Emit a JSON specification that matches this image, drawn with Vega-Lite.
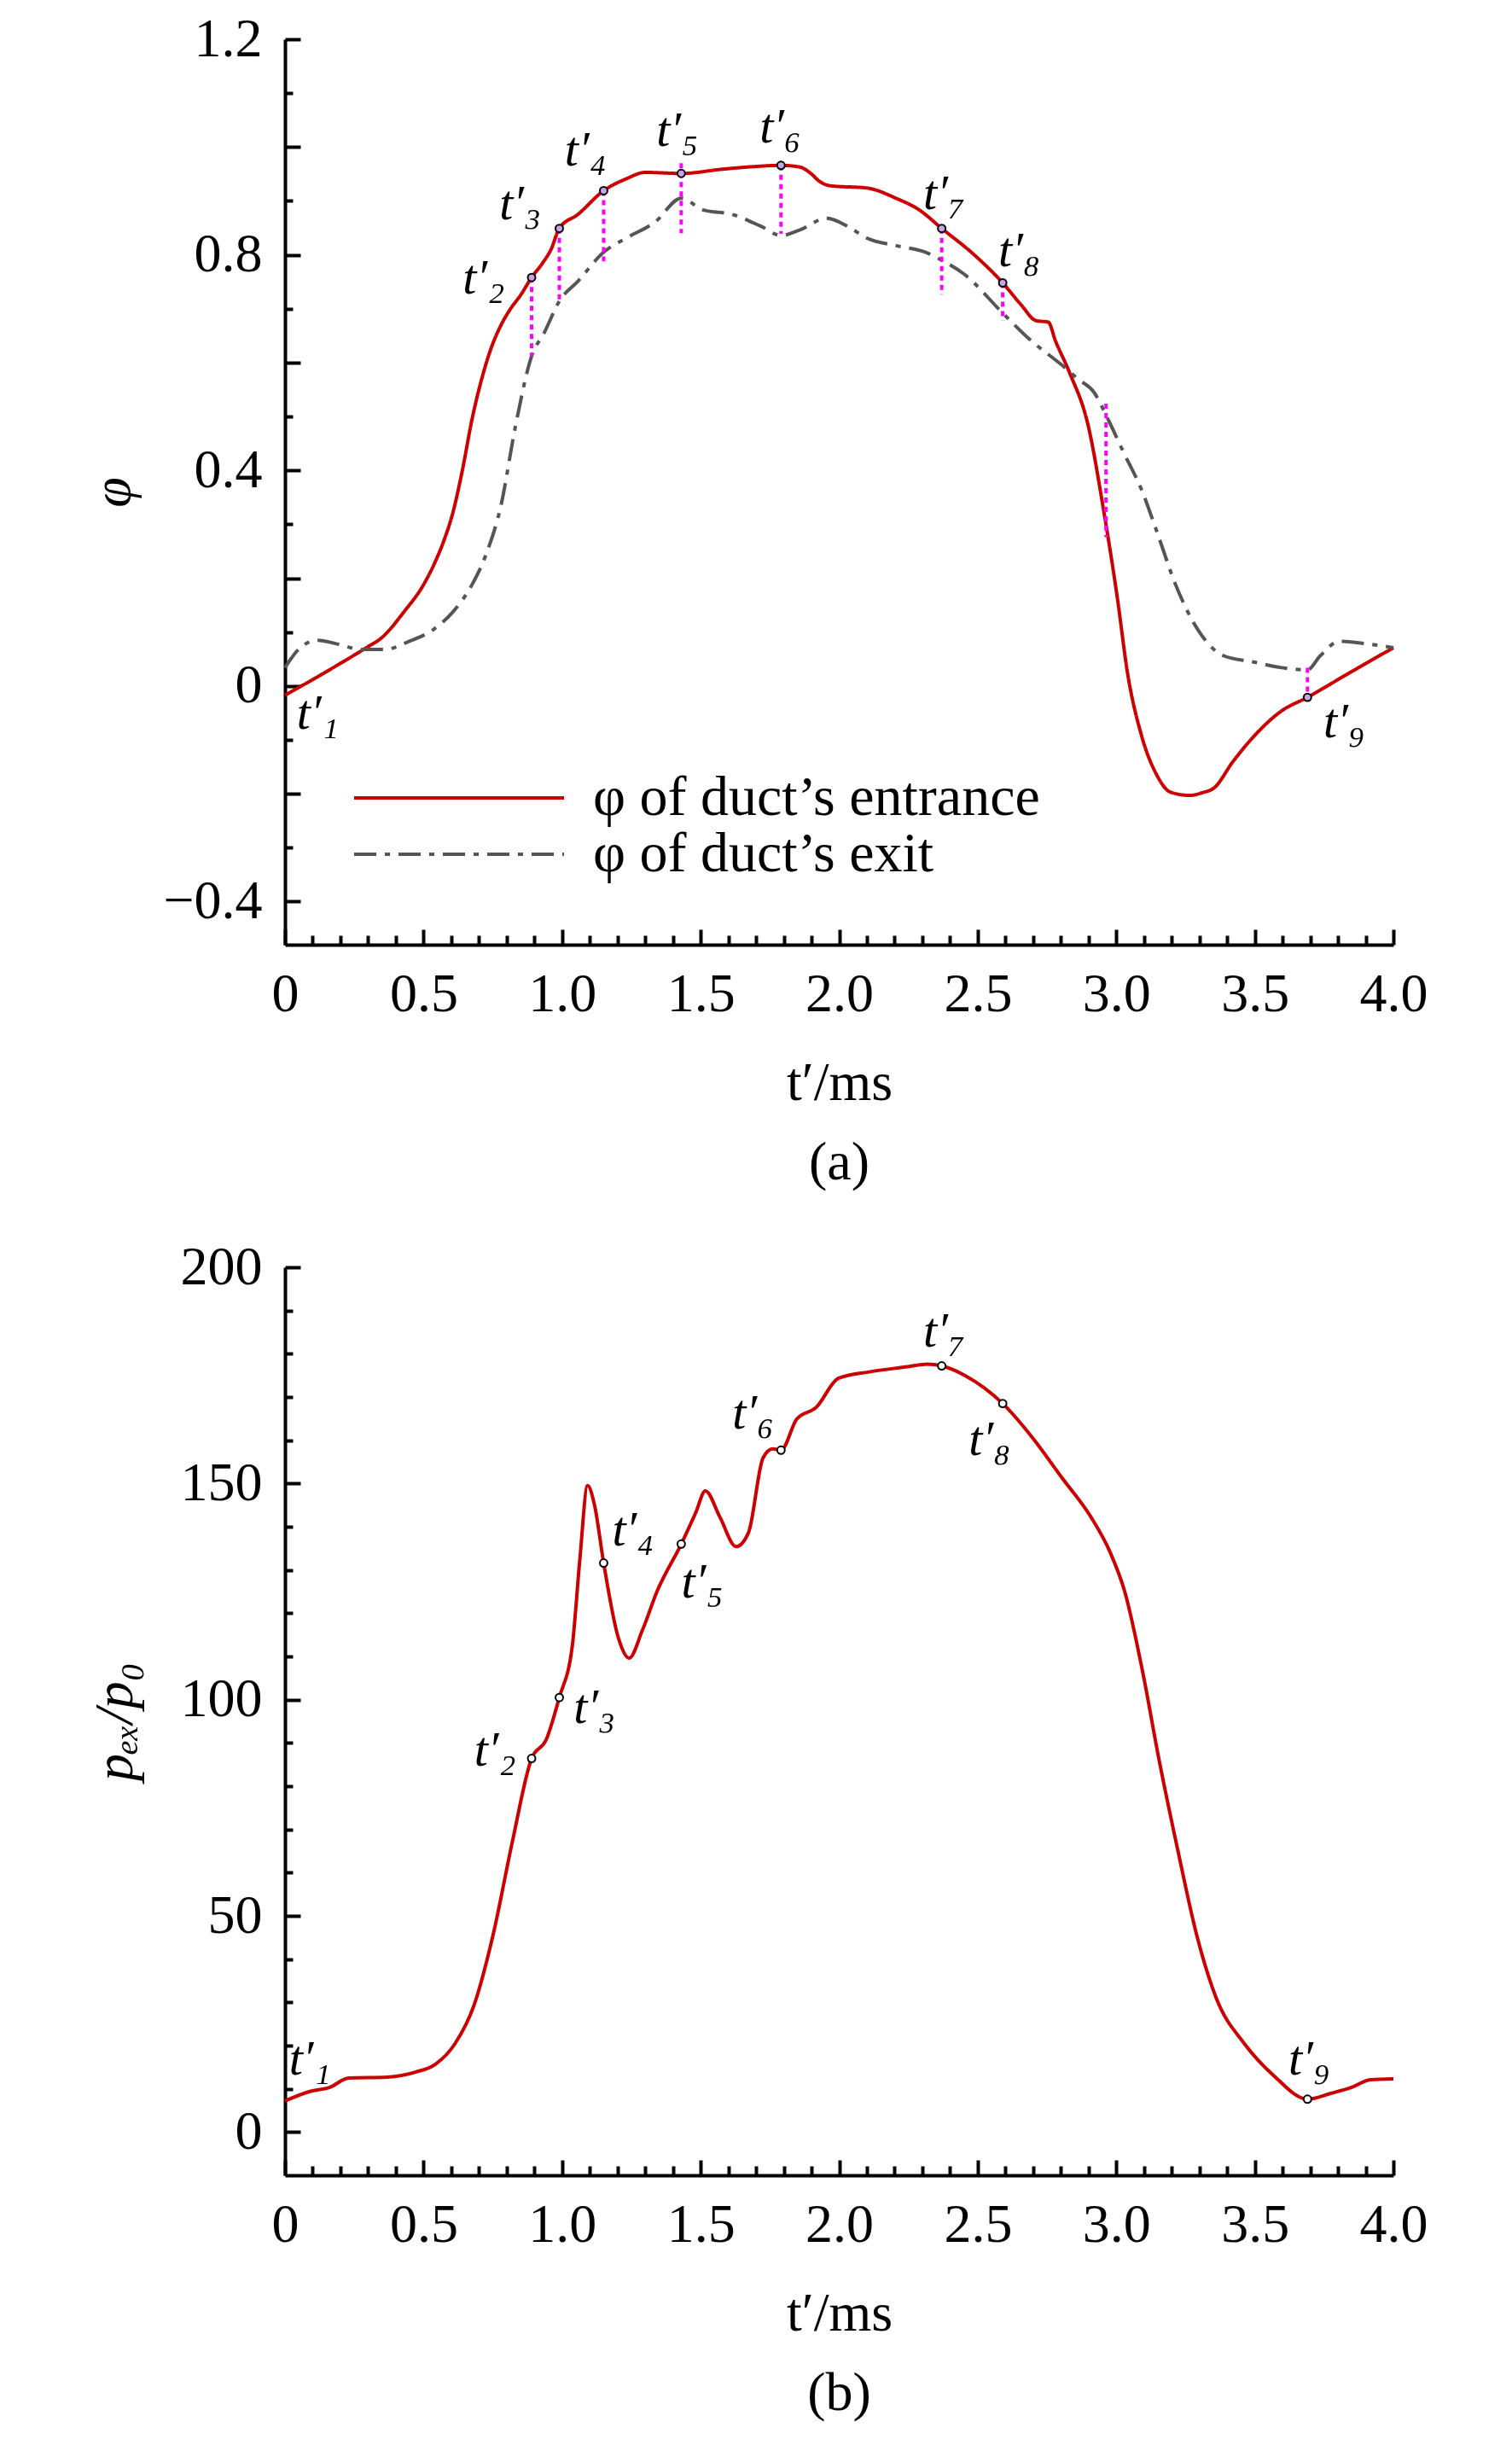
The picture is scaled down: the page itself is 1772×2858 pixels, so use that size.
{
"$schema":"https://vega.github.io/schema/vega-lite/v6.json",
"padding":{"left":100,"top":14,"right":5,"bottom":5},
"background":"white",
"spacing":58,
"datasets":{
"a_lines":[
{"t":0,"phi":-0.017,"s":"in"},{"t":0.1,"phi":0.012,"s":"in"},{"t":0.2,"phi":0.042,"s":"in"},{"t":0.29,"phi":0.07,"s":"in"},{"t":0.35,"phi":0.09,"s":"in"},{"t":0.43,"phi":0.138,"s":"in"},{"t":0.5,"phi":0.188,"s":"in"},{"t":0.54,"phi":0.228,"s":"in"},{"t":0.575,"phi":0.272,"s":"in"},{"t":0.605,"phi":0.32,"s":"in"},{"t":0.64,"phi":0.4,"s":"in"},{"t":0.675,"phi":0.495,"s":"in"},{"t":0.71,"phi":0.57,"s":"in"},{"t":0.744,"phi":0.627,"s":"in"},{"t":0.78,"phi":0.67,"s":"in"},{"t":0.814,"phi":0.7,"s":"in"},{"t":0.85,"phi":0.725,"s":"in"},{"t":0.89,"phi":0.758,"s":"in"},{"t":0.93,"phi":0.785,"s":"in"},{"t":0.96,"phi":0.81,"s":"in"},{"t":0.99,"phi":0.849,"s":"in"},{"t":1.057,"phi":0.875,"s":"in"},{"t":1.15,"phi":0.919,"s":"in"},{"t":1.231,"phi":0.941,"s":"in"},{"t":1.3,"phi":0.953,"s":"in"},{"t":1.43,"phi":0.951,"s":"in"},{"t":1.58,"phi":0.959,"s":"in"},{"t":1.7,"phi":0.964,"s":"in"},{"t":1.79,"phi":0.966,"s":"in"},{"t":1.857,"phi":0.963,"s":"in"},{"t":1.9,"phi":0.95,"s":"in"},{"t":1.927,"phi":0.937,"s":"in"},{"t":1.97,"phi":0.928,"s":"in"},{"t":2.1,"phi":0.924,"s":"in"},{"t":2.205,"phi":0.905,"s":"in"},{"t":2.29,"phi":0.883,"s":"in"},{"t":2.37,"phi":0.849,"s":"in"},{"t":2.483,"phi":0.802,"s":"in"},{"t":2.59,"phi":0.748,"s":"in"},{"t":2.657,"phi":0.707,"s":"in"},{"t":2.71,"phi":0.678,"s":"in"},{"t":2.755,"phi":0.675,"s":"in"},{"t":2.78,"phi":0.641,"s":"in"},{"t":2.83,"phi":0.583,"s":"in"},{"t":2.9,"phi":0.48,"s":"in"},{"t":2.953,"phi":0.33,"s":"in"},{"t":3.005,"phi":0.159,"s":"in"},{"t":3.04,"phi":0.026,"s":"in"},{"t":3.09,"phi":-0.09,"s":"in"},{"t":3.144,"phi":-0.163,"s":"in"},{"t":3.196,"phi":-0.197,"s":"in"},{"t":3.266,"phi":-0.203,"s":"in"},{"t":3.31,"phi":-0.198,"s":"in"},{"t":3.353,"phi":-0.189,"s":"in"},{"t":3.42,"phi":-0.141,"s":"in"},{"t":3.49,"phi":-0.097,"s":"in"},{"t":3.597,"phi":-0.046,"s":"in"},{"t":3.69,"phi":-0.021,"s":"in"},{"t":3.84,"phi":0.024,"s":"in"},{"t":4.0,"phi":0.071,"s":"in"},
{"t":0,"phi":0.034,"s":"out"},{"t":0.049,"phi":0.068,"s":"out"},{"t":0.118,"phi":0.085,"s":"out"},{"t":0.188,"phi":0.078,"s":"out"},{"t":0.275,"phi":0.068,"s":"out"},{"t":0.362,"phi":0.068,"s":"out"},{"t":0.449,"phi":0.083,"s":"out"},{"t":0.536,"phi":0.105,"s":"out"},{"t":0.605,"phi":0.137,"s":"out"},{"t":0.675,"phi":0.188,"s":"out"},{"t":0.727,"phi":0.246,"s":"out"},{"t":0.779,"phi":0.334,"s":"out"},{"t":0.831,"phi":0.48,"s":"out"},{"t":0.89,"phi":0.612,"s":"out"},{"t":0.936,"phi":0.656,"s":"out"},{"t":0.99,"phi":0.714,"s":"out"},{"t":1.057,"phi":0.751,"s":"out"},{"t":1.15,"phi":0.805,"s":"out"},{"t":1.231,"phi":0.831,"s":"out"},{"t":1.336,"phi":0.861,"s":"out"},{"t":1.43,"phi":0.905,"s":"out"},{"t":1.51,"phi":0.883,"s":"out"},{"t":1.614,"phi":0.875,"s":"out"},{"t":1.718,"phi":0.853,"s":"out"},{"t":1.79,"phi":0.836,"s":"out"},{"t":1.857,"phi":0.846,"s":"out"},{"t":1.955,"phi":0.868,"s":"out"},{"t":2.03,"phi":0.853,"s":"out"},{"t":2.1,"phi":0.831,"s":"out"},{"t":2.205,"phi":0.817,"s":"out"},{"t":2.31,"phi":0.805,"s":"out"},{"t":2.37,"phi":0.79,"s":"out"},{"t":2.449,"phi":0.765,"s":"out"},{"t":2.59,"phi":0.692,"s":"out"},{"t":2.692,"phi":0.641,"s":"out"},{"t":2.8,"phi":0.597,"s":"out"},{"t":2.866,"phi":0.568,"s":"out"},{"t":2.918,"phi":0.546,"s":"out"},{"t":2.97,"phi":0.495,"s":"out"},{"t":3.023,"phi":0.437,"s":"out"},{"t":3.092,"phi":0.363,"s":"out"},{"t":3.144,"phi":0.29,"s":"out"},{"t":3.214,"phi":0.188,"s":"out"},{"t":3.3,"phi":0.1,"s":"out"},{"t":3.388,"phi":0.056,"s":"out"},{"t":3.492,"phi":0.045,"s":"out"},{"t":3.597,"phi":0.034,"s":"out"},{"t":3.69,"phi":0.03,"s":"out"},{"t":3.736,"phi":0.056,"s":"out"},{"t":3.805,"phi":0.083,"s":"out"},{"t":3.91,"phi":0.078,"s":"out"},{"t":4.0,"phi":0.071,"s":"out"}
],
"a_rules":[
{"t":0.89,"y1":0.758,"y2":0.612},{"t":0.99,"y1":0.849,"y2":0.714},{"t":1.15,"y1":0.919,"y2":0.788},{"t":1.43,"y1":0.97,"y2":0.84},{"t":1.79,"y1":0.966,"y2":0.839},{"t":2.37,"y1":0.849,"y2":0.726},{"t":2.59,"y1":0.748,"y2":0.678},{"t":2.963,"y1":0.524,"y2":0.276},{"t":3.69,"y1":0.034,"y2":-0.031}
],
"a_marks":[
{"t":0.89,"phi":0.758},{"t":0.99,"phi":0.849},{"t":1.15,"phi":0.919},{"t":1.43,"phi":0.951},{"t":1.79,"phi":0.966},{"t":2.37,"phi":0.849},{"t":2.59,"phi":0.748},{"t":3.69,"phi":-0.021}
],
"a_labels":[
{"label":"t′₁","t":0.118,"phi":-0.053},{"label":"t′₂","t":0.717,"phi":0.755},{"label":"t′₃","t":0.849,"phi":0.893},{"label":"t′₄","t":1.085,"phi":0.992},{"label":"t′₅","t":1.416,"phi":1.029},{"label":"t′₆","t":1.788,"phi":1.036},{"label":"t′₇","t":2.379,"phi":0.912},{"label":"t′₈","t":2.65,"phi":0.805},{"label":"t′₉","t":3.823,"phi":-0.068}
],
"b_line":[
{"t":0,"p":7.2},{"t":0.09,"p":9.4},{"t":0.16,"p":10.3},{"t":0.23,"p":12.5},{"t":0.369,"p":12.7},{"t":0.473,"p":13.9},{"t":0.543,"p":15.7},{"t":0.612,"p":20.3},{"t":0.682,"p":29.3},{"t":0.751,"p":45.6},{"t":0.821,"p":67.3},{"t":0.89,"p":86.4},{"t":0.943,"p":90.8},{"t":0.99,"p":100.5},{"t":1.037,"p":112.5},{"t":1.064,"p":132.4},{"t":1.092,"p":149.5},{"t":1.117,"p":145},{"t":1.15,"p":131.6},{"t":1.203,"p":114.3},{"t":1.242,"p":109.6},{"t":1.29,"p":116.1},{"t":1.343,"p":125.1},{"t":1.43,"p":136},{"t":1.482,"p":143.2},{"t":1.517,"p":148.3},{"t":1.569,"p":142.3},{"t":1.628,"p":135.4},{"t":1.673,"p":138.7},{"t":1.725,"p":155.9},{"t":1.76,"p":158},{"t":1.79,"p":157.7},{"t":1.847,"p":164.9},{"t":1.917,"p":167.6},{"t":1.997,"p":174.3},{"t":2.108,"p":175.8},{"t":2.247,"p":177.0},{"t":2.317,"p":177.6},{"t":2.37,"p":177.2},{"t":2.456,"p":174.9},{"t":2.59,"p":168.5},{"t":2.7,"p":160.4},{"t":2.803,"p":151.4},{"t":2.908,"p":142.3},{"t":2.977,"p":134.2},{"t":3.03,"p":125.1},{"t":3.099,"p":105.2},{"t":3.151,"p":87.2},{"t":3.221,"p":65.5},{"t":3.29,"p":45.6},{"t":3.36,"p":31.1},{"t":3.464,"p":20.3},{"t":3.569,"p":13.0},{"t":3.69,"p":7.6},{"t":3.777,"p":9.0},{"t":3.847,"p":10.3},{"t":3.917,"p":12.1},{"t":4.0,"p":12.3}
],
"b_marks":[
{"t":0.89,"p":86.4},{"t":0.99,"p":100.5},{"t":1.15,"p":131.6},{"t":1.43,"p":136},{"t":1.79,"p":157.7},{"t":2.37,"p":177.2},{"t":2.59,"p":168.5},{"t":3.69,"p":7.6}
],
"b_labels":[
{"label":"t′₁","t":0.09,"p":16.6},{"label":"t′₂","t":0.758,"p":88},{"label":"t′₃","t":1.117,"p":98},{"label":"t′₄","t":1.256,"p":139},{"label":"t′₅","t":1.506,"p":127},{"label":"t′₆","t":1.69,"p":166},{"label":"t′₇","t":2.379,"p":185},{"label":"t′₈","t":2.543,"p":160},{"label":"t′₉","t":3.697,"p":16.6}
]
},
"vconcat":[
{
"width":1299,"height":1061,
"title":{"text":"(a)","orient":"bottom","offset":30},
"resolve":{"axis":{"x":"independent","y":"independent"}},
"layer":[
{"data":{"name":"a_lines"},
"mark":{"type":"line","strokeWidth":4,"interpolate":"monotone"},
"encoding":{
"x":{"field":"t","type":"quantitative","scale":{"domain":[0,4],"nice":false,"zero":false},
"axis":{"orient":"bottom","values":[0,0.5,1,1.5,2,2.5,3,3.5,4],"tickSize":-18,"labelPadding":44,"labelExpr":"datum.value == 0 ? '0' : format(datum.value, '.1f')","title":"t′/ms","titlePadding":40}},
"y":{"field":"phi","type":"quantitative","scale":{"domain":[-0.48,1.2],"nice":false,"zero":false},
"axis":{"orient":"left","values":[-0.4,-0.2,0,0.2,0.4,0.6,0.8,1.0,1.2],"tickSize":-18,"labelPadding":45,"labelExpr":"round(datum.value*10) % 4 == 0 ? (datum.value == 0 ? '0' : format(datum.value, '.1f')) : ''","title":"φ","titleFontStyle":"italic","titlePadding":26}},
"color":{"field":"s","type":"nominal","scale":{"domain":["in","out"],"range":["#cc0000","#555555"]},
"legend":{"title":null,"orient":"none","legendX":79,"legendY":856,"labelExpr":"datum.label == 'in' ? 'φ of duct’s entrance' : 'φ of duct’s exit'"}},
"strokeDash":{"field":"s","type":"nominal","scale":{"domain":["in","out"],"range":[[1,0],[26,10,6,10]]},
"legend":{"title":null,"orient":"none","legendX":79,"legendY":856,"labelExpr":"datum.label == 'in' ? 'φ of duct’s entrance' : 'φ of duct’s exit'"}}
}},
{"data":{"name":"a_rules"},
"mark":{"type":"rule","color":"#ff00ff","strokeWidth":4,"strokeDash":[6,5]},
"encoding":{
"x":{"field":"t","type":"quantitative","scale":{"domain":[0,4],"nice":false,"zero":false},
"axis":{"orient":"bottom","values":[0.1,0.2,0.3,0.4,0.6,0.7,0.8,0.9,1.1,1.2,1.3,1.4,1.6,1.7,1.8,1.9,2.1,2.2,2.3,2.4,2.6,2.7,2.8,2.9,3.1,3.2,3.3,3.4,3.6,3.7,3.8,3.9],"tickSize":-11,"labels":false,"domain":false,"title":null}},
"y":{"field":"y1","type":"quantitative","scale":{"domain":[-0.48,1.2],"nice":false,"zero":false},
"axis":{"orient":"left","values":[-0.3,-0.1,0.1,0.3,0.5,0.7,0.9,1.1],"tickSize":-9,"labels":false,"domain":false,"title":null}},
"y2":{"field":"y2"}
}},
{"data":{"name":"a_marks"},
"mark":{"type":"point","shape":"circle","size":80,"fill":"#c9a3e6","stroke":"black","strokeWidth":2,"opacity":1},
"encoding":{
"x":{"field":"t","type":"quantitative","scale":{"domain":[0,4],"nice":false,"zero":false},"axis":null},
"y":{"field":"phi","type":"quantitative","scale":{"domain":[-0.48,1.2],"nice":false,"zero":false},"axis":null}
}},
{"data":{"name":"a_labels"},
"mark":{"type":"text","font":"Liberation Serif","fontStyle":"italic","fontSize":58,"align":"center","baseline":"middle","color":"black"},
"encoding":{
"x":{"field":"t","type":"quantitative","scale":{"domain":[0,4],"nice":false,"zero":false},"axis":null},
"y":{"field":"phi","type":"quantitative","scale":{"domain":[-0.48,1.2],"nice":false,"zero":false},"axis":null},
"text":{"field":"label"}
}}
]
},
{
"width":1299,"height":1064,
"title":{"text":"(b)","orient":"bottom","offset":30},
"resolve":{"axis":{"x":"independent","y":"independent"}},
"layer":[
{"data":{"name":"b_line"},
"mark":{"type":"line","strokeWidth":4,"interpolate":"monotone","color":"#cc0000"},
"encoding":{
"x":{"field":"t","type":"quantitative","scale":{"domain":[0,4],"nice":false,"zero":false},
"axis":{"orient":"bottom","values":[0,0.5,1,1.5,2,2.5,3,3.5,4],"tickSize":-18,"labelPadding":44,"labelExpr":"datum.value == 0 ? '0' : format(datum.value, '.1f')","title":"t′/ms","titlePadding":40}},
"y":{"field":"p","type":"quantitative","scale":{"domain":[-10,200],"nice":false,"zero":false},
"axis":{"orient":"left","values":[0,50,100,150,200],"tickSize":-18,"labelPadding":45,"title":"pₑₓ/p₀","titleFontStyle":"italic","titlePadding":44}}
}},
{"data":{"name":"b_marks"},
"mark":{"type":"point","shape":"circle","size":80,"fill":"white","stroke":"black","strokeWidth":2,"opacity":1},
"encoding":{
"x":{"field":"t","type":"quantitative","scale":{"domain":[0,4],"nice":false,"zero":false},
"axis":{"orient":"bottom","values":[0.1,0.2,0.3,0.4,0.6,0.7,0.8,0.9,1.1,1.2,1.3,1.4,1.6,1.7,1.8,1.9,2.1,2.2,2.3,2.4,2.6,2.7,2.8,2.9,3.1,3.2,3.3,3.4,3.6,3.7,3.8,3.9],"tickSize":-11,"labels":false,"domain":false,"title":null}},
"y":{"field":"p","type":"quantitative","scale":{"domain":[-10,200],"nice":false,"zero":false},
"axis":{"orient":"left","values":[10,20,30,40,60,70,80,90,110,120,130,140,160,170,180,190],"tickSize":-9,"labels":false,"domain":false,"title":null}}
}},
{"data":{"name":"b_labels"},
"mark":{"type":"text","font":"Liberation Serif","fontStyle":"italic","fontSize":58,"align":"center","baseline":"middle","color":"black"},
"encoding":{
"x":{"field":"t","type":"quantitative","scale":{"domain":[0,4],"nice":false,"zero":false},"axis":null},
"y":{"field":"p","type":"quantitative","scale":{"domain":[-10,200],"nice":false,"zero":false},"axis":null},
"text":{"field":"label"}
}}
]
}
],
"config":{
"view":{"stroke":null},
"font":"Liberation Serif",
"axis":{"domainColor":"black","domainWidth":4,"tickColor":"black","tickWidth":4,"labelFont":"Liberation Serif","labelFontSize":64,"labelColor":"black","titleFont":"Liberation Serif","titleFontSize":64,"titleFontWeight":"normal","titleColor":"black","grid":false,"labelFlush":false,"labelOverlap":false},
"legend":{"symbolType":"stroke","symbolSize":60516,"symbolStrokeWidth":4,"labelFont":"Liberation Serif","labelFontSize":66,"labelColor":"black","labelOffset":32,"padding":0,"rowPadding":0,"clipHeight":66,"labelLimit":1000},
"title":{"font":"Liberation Serif","fontSize":64,"fontWeight":"normal","color":"black"}
}
}
